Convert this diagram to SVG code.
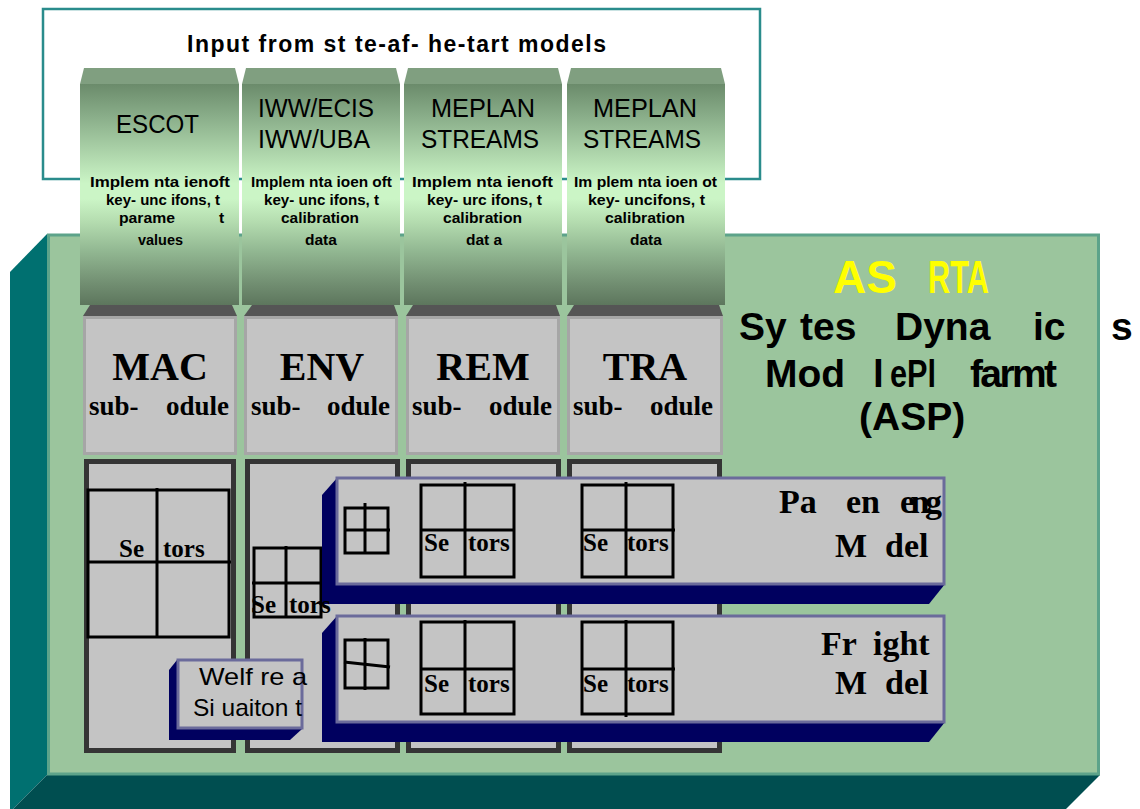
<svg xmlns="http://www.w3.org/2000/svg" width="1140" height="809" viewBox="0 0 1140 809">
  <defs>
    <linearGradient id="tabGrad" x1="0" y1="0" x2="0" y2="1">
      <stop offset="0" stop-color="#6b8b6b"/>
      <stop offset="0.14" stop-color="#88ac88"/>
      <stop offset="0.45" stop-color="#cbf5c6"/>
      <stop offset="0.52" stop-color="#cbf5c6"/>
      <stop offset="0.62" stop-color="#b5ddb0"/>
      <stop offset="0.75" stop-color="#93b993"/>
      <stop offset="0.9" stop-color="#728f72"/>
      <stop offset="1" stop-color="#5d765d"/>
    </linearGradient>
    <style>
      .sans { font-family: "Liberation Sans", Arial, sans-serif; }
      .serif { font-family: "Liberation Serif", "Times New Roman", serif; font-weight: bold; }
      .title { font-size: 23px; font-weight: bold; }
      .tabh { font-size: 25px; }
      .tabs { font-size: 15.5px; font-weight: bold; }
      .chamfer { fill: #809f80; }
      .tab { fill: url(#tabGrad); }
      .band { fill: #555555; }
      .sub { fill: #c4c4c4; stroke: #a6a6a6; stroke-width: 3; }
      .subname { font-size: 40px; }
      .subtag { font-size: 27px; }
      .inner { fill: #c4c4c4; stroke: #353535; stroke-width: 5; }
      .grid { fill: none; stroke: #000; stroke-width: 3; }
      .sect { font-size: 25px; }
      .navy { fill: #00005f; }
      .face { fill: #c4c4c4; stroke: #6b6b9b; stroke-width: 3; }
      .model { font-size: 34px; }
      .asp { font-size: 39px; font-weight: bold; }
    </style>
  </defs>

  <rect width="1140" height="809" fill="#ffffff"/>

  <!-- outer frame listing the source models -->
  <g id="input-frame">
    <rect x="43" y="9" width="717" height="170" fill="#ffffff" stroke="#2a8c8c" stroke-width="2.5"/>
    <text class="sans title" x="187" y="52" textLength="419" lengthAdjust="spacing" xml:space="preserve">Input from st te-af- he-tart models</text>
  </g>

  <!-- ASP platform slab -->
  <g id="asp-platform">
    <polygon points="47,234 10,272 10,812 47,775" fill="#007070"/>
    <polygon points="47,775 1100,775 1063,812 10,812" fill="#004e50"/>
    <rect x="48.5" y="235" width="1050" height="539" fill="#9bc59d" stroke="#5da38a" stroke-width="3"/>
  </g>

  <!-- input tabs -->
  <g id="tab-escot">
    <polygon class="chamfer" points="80,84 84,68 235,68 239,84"/>
    <rect class="tab" x="80" y="84" width="159" height="221"/>
    <text class="sans tabh" x="116" y="133" textLength="83" lengthAdjust="spacingAndGlyphs">ESCOT</text>
    <g class="sans tabs">
      <text x="90" y="187" textLength="140" lengthAdjust="spacingAndGlyphs" xml:space="preserve">Implem nta ienoft</text>
      <text x="106" y="205" textLength="114" lengthAdjust="spacingAndGlyphs" xml:space="preserve">key- unc ifons, t</text>
      <text x="119" y="223" textLength="56" lengthAdjust="spacingAndGlyphs">parame</text>
      <text x="219" y="223">t</text>
      <text x="138" y="245" textLength="45" lengthAdjust="spacingAndGlyphs">values</text>
    </g>
  </g>
  <g id="tab-iww">
    <polygon class="chamfer" points="242,84 246,68 396,68 400,84"/>
    <rect class="tab" x="242" y="84" width="158" height="221"/>
    <text class="sans tabh" x="258" y="117" textLength="116" lengthAdjust="spacingAndGlyphs">IWW/ECIS</text>
    <text class="sans tabh" x="258" y="148" textLength="112" lengthAdjust="spacingAndGlyphs">IWW/UBA</text>
    <g class="sans tabs">
      <text x="251" y="187" textLength="141" lengthAdjust="spacingAndGlyphs" xml:space="preserve">Implem nta ioen oft</text>
      <text x="264" y="205" textLength="115" lengthAdjust="spacingAndGlyphs" xml:space="preserve">key- unc ifons, t</text>
      <text x="281" y="223" textLength="78" lengthAdjust="spacingAndGlyphs">calibration</text>
      <text x="305" y="245">data</text>
    </g>
  </g>
  <g id="tab-meplan-1">
    <polygon class="chamfer" points="404,84 408,68 558,68 562,84"/>
    <rect class="tab" x="404" y="84" width="158" height="221"/>
    <text class="sans tabh" x="431" y="117" textLength="104" lengthAdjust="spacingAndGlyphs">MEPLAN</text>
    <text class="sans tabh" x="421" y="148" textLength="118" lengthAdjust="spacingAndGlyphs">STREAMS</text>
    <g class="sans tabs">
      <text x="412" y="187" textLength="141" lengthAdjust="spacingAndGlyphs" xml:space="preserve">Implem nta ienoft</text>
      <text x="427" y="205" textLength="115" lengthAdjust="spacingAndGlyphs" xml:space="preserve">key- urc ifons, t</text>
      <text x="443" y="223" textLength="79" lengthAdjust="spacingAndGlyphs">calibration</text>
      <text x="466" y="245" xml:space="preserve">dat a</text>
    </g>
  </g>
  <g id="tab-meplan-2">
    <polygon class="chamfer" points="567,84 571,68 721,68 725,84"/>
    <rect class="tab" x="567" y="84" width="158" height="221"/>
    <text class="sans tabh" x="593" y="117" textLength="104" lengthAdjust="spacingAndGlyphs">MEPLAN</text>
    <text class="sans tabh" x="583" y="148" textLength="118" lengthAdjust="spacingAndGlyphs">STREAMS</text>
    <g class="sans tabs">
      <text x="574" y="187" textLength="143" lengthAdjust="spacingAndGlyphs" xml:space="preserve">Im plem nta ioen ot</text>
      <text x="588" y="205" textLength="117" lengthAdjust="spacingAndGlyphs" xml:space="preserve">key- uncifons, t</text>
      <text x="605" y="223" textLength="80" lengthAdjust="spacingAndGlyphs">calibration</text>
      <text x="630" y="245">data</text>
    </g>
  </g>

  <!-- sub-module heads -->
  <g id="sub-mac">
    <polygon class="band" points="90,305 232,305 237,316 83,316"/>
    <rect class="sub" x="84.5" y="317.5" width="151" height="136"/>
    <text class="serif subname" x="160" y="380" text-anchor="middle">MAC</text>
    <text class="serif subtag" x="89" y="415">sub-</text>
    <text class="serif subtag" x="166" y="415">odule</text>
  </g>
  <g id="sub-env">
    <polygon class="band" points="252,305 394,305 398,316 244,316"/>
    <rect class="sub" x="245.5" y="317.5" width="151" height="136"/>
    <text class="serif subname" x="322" y="380" text-anchor="middle">ENV</text>
    <text class="serif subtag" x="251" y="415">sub-</text>
    <text class="serif subtag" x="327" y="415">odule</text>
  </g>
  <g id="sub-rem">
    <polygon class="band" points="413,305 556,305 560,316 406,316"/>
    <rect class="sub" x="407.5" y="317.5" width="151" height="136"/>
    <text class="serif subname" x="483" y="380" text-anchor="middle">REM</text>
    <text class="serif subtag" x="412" y="415">sub-</text>
    <text class="serif subtag" x="489" y="415">odule</text>
  </g>
  <g id="sub-tra">
    <polygon class="band" points="574,305 719,305 723,316 567,316"/>
    <rect class="sub" x="568.5" y="317.5" width="153" height="136"/>
    <text class="serif subname" x="645" y="380" text-anchor="middle">TRA</text>
    <text class="serif subtag" x="573" y="415">sub-</text>
    <text class="serif subtag" x="650" y="415">odule</text>
  </g>

  <!-- sub-module bodies -->
  <g id="body-mac">
    <rect class="inner" x="86.5" y="461.5" width="147" height="289"/>
    <rect class="grid" x="88" y="490" width="141" height="147"/>
    <line class="grid" x1="157" y1="488" x2="157" y2="637"/>
    <line class="grid" x1="87" y1="562" x2="231" y2="562"/>
    <text class="serif sect" x="119" y="557">Se</text>
    <text class="serif sect" x="163" y="557">tors</text>
  </g>
  <g id="body-env">
    <rect class="inner" x="247.5" y="461.5" width="150" height="289"/>
    <rect class="grid" x="254" y="548" width="67" height="69"/>
    <line class="grid" x1="286" y1="546" x2="286" y2="617"/>
    <line class="grid" x1="252" y1="583" x2="323" y2="583"/>
  </g>
  <g id="body-rem">
    <rect class="inner" x="408.5" y="461.5" width="150" height="289"/>
  </g>
  <g id="body-tra">
    <rect class="inner" x="569.5" y="461.5" width="150" height="289"/>
  </g>

  <!-- welfare situation -->
  <g id="welfare">
    <polygon class="navy" points="177,660 169,670 169,740 290,740 302,729 302,660"/>
    <rect class="face" x="178" y="660" width="124" height="68"/>
    <text class="sans" font-size="24" x="199" y="685" textLength="108" lengthAdjust="spacingAndGlyphs" xml:space="preserve">Welf re a</text>
    <text class="sans" font-size="24" x="193" y="716" textLength="109" lengthAdjust="spacingAndGlyphs" xml:space="preserve">Si uaiton t</text>
  </g>

  <!-- passenger model -->
  <g id="passenger-model">
    <polygon class="navy" points="337,478 322,495 322,604 929,604 945,584 945,478"/>
    <rect class="face" x="337" y="478" width="607" height="106"/>
    <rect class="grid" x="345" y="508" width="43" height="45"/>
    <line class="grid" x1="365" y1="503" x2="365" y2="553"/>
    <line class="grid" x1="344" y1="530" x2="390" y2="530"/>
    <rect class="grid" x="421" y="485" width="93" height="92"/>
    <line class="grid" x1="465" y1="482" x2="465" y2="577"/>
    <line class="grid" x1="420" y1="530" x2="514" y2="530"/>
    <rect class="grid" x="582" y="485" width="91" height="92"/>
    <line class="grid" x1="626" y1="482" x2="626" y2="577"/>
    <line class="grid" x1="581" y1="530" x2="675" y2="530"/>
    <text class="serif sect" x="424" y="551">Se</text>
    <text class="serif sect" x="468" y="551">tors</text>
    <text class="serif sect" x="583" y="551">Se</text>
    <text class="serif sect" x="627" y="551">tors</text>
    <text class="serif model" x="779" y="513">Pa</text>
    <text class="serif model" x="846" y="513">en</text>
    <text class="serif model" x="900" y="513" textLength="42">eng</text>
    <text class="serif model" x="835" y="557">M</text>
    <text class="serif model" x="885" y="557">del</text>
  </g>

  <!-- freight model -->
  <g id="freight-model">
    <polygon class="navy" points="337,616 322,633 322,742 929,742 945,722 945,616"/>
    <rect class="face" x="337" y="616" width="607" height="106"/>
    <rect class="grid" x="345" y="640" width="43" height="48"/>
    <line class="grid" x1="365" y1="638" x2="365" y2="690"/>
    <line class="grid" x1="344" y1="662" x2="390" y2="667"/>
    <rect class="grid" x="421" y="622" width="93" height="92"/>
    <line class="grid" x1="465" y1="620" x2="465" y2="714"/>
    <line class="grid" x1="420" y1="669" x2="514" y2="669"/>
    <rect class="grid" x="582" y="622" width="91" height="92"/>
    <line class="grid" x1="626" y1="620" x2="626" y2="717"/>
    <line class="grid" x1="581" y1="669" x2="675" y2="669"/>
    <text class="serif sect" x="424" y="692">Se</text>
    <text class="serif sect" x="468" y="692">tors</text>
    <text class="serif sect" x="583" y="692">Se</text>
    <text class="serif sect" x="627" y="692">tors</text>
    <text class="serif model" x="821" y="655">Fr</text>
    <text class="serif model" x="873" y="655">ight</text>
    <text class="serif model" x="835" y="694">M</text>
    <text class="serif model" x="885" y="694">del</text>
  </g>

  <!-- sector label overlapping the passenger slab edge -->
  <g id="env-sectors">
    <text class="serif sect" x="251" y="613">Se</text>
    <text class="serif sect" x="289" y="613">tors</text>
  </g>

  <!-- platform name -->
  <g id="asp-title" class="sans">
    <text x="833" y="293" font-size="46" font-weight="bold" fill="#ffff00">AS</text>
    <text x="928" y="293" font-size="46" font-weight="bold" fill="#ffff00" textLength="61" lengthAdjust="spacingAndGlyphs">RTA</text>
    <text class="asp" x="739" y="340">Sy</text>
    <text class="asp" x="800" y="340">tes</text>
    <text class="asp" x="895" y="340">Dyna</text>
    <text class="asp" x="1033" y="340">ic</text>
    <text class="asp" x="1111" y="340">s</text>
    <text class="asp" x="765" y="387">Mod</text>
    <text class="asp" x="873" y="387">l</text>
    <text class="asp" x="890" y="387" textLength="46" lengthAdjust="spacingAndGlyphs">ePl</text>
    <text class="asp" x="970" y="387" textLength="87">farmt</text>
    <text class="asp" x="859" y="430">(ASP)</text>
  </g>
</svg>
